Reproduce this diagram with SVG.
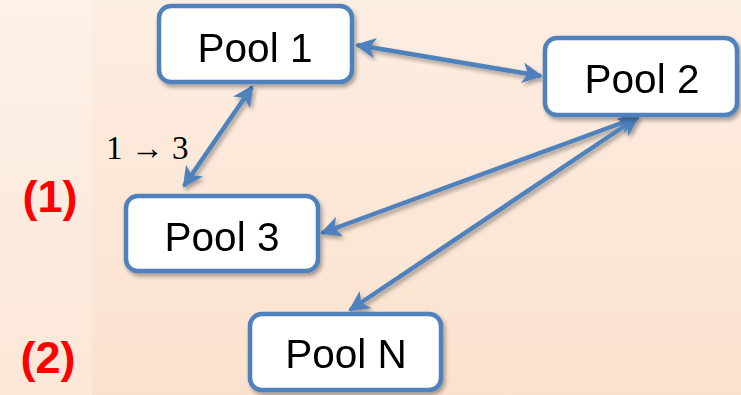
<svg xmlns="http://www.w3.org/2000/svg" width="741" height="395" viewBox="0 0 741 395">
<style>
.box{fill:#ffffff;stroke:#4F81BD;stroke-width:4.5}
.lbl{font-family:"Liberation Sans",Arial,sans-serif;font-size:40.5px;fill:#000;text-anchor:middle}
.tag{font-family:"Liberation Sans",Arial,sans-serif;font-size:45px;font-weight:bold;fill:#FF0000;text-anchor:middle}
.math{font-family:"Liberation Serif","Times New Roman",serif;font-size:33px;fill:#000}
.edge{stroke:#4F81BD;stroke-width:4.5;fill:none;marker-start:url(#ah);marker-end:url(#ah)}
</style>
<defs>
<linearGradient id="bg" x1="0" y1="0" x2="0" y2="1">
<stop offset="0" stop-color="#FDEEE2"/>
<stop offset="1" stop-color="#FBE1CD"/>
</linearGradient>
<marker id="ah" viewBox="0 0 10 10" refX="9" refY="5" markerWidth="4.6" markerHeight="4.6" orient="auto-start-reverse" markerUnits="strokeWidth">
<path d="M0,0 L10,5 L0,10 L2.5,5 Z" fill="#4F81BD"/>
</marker>
<filter id="sh" x="-20%" y="-20%" width="140%" height="150%">
<feGaussianBlur in="SourceAlpha" stdDeviation="2"/>
<feOffset dx="1.5" dy="3" result="b"/>
<feComponentTransfer><feFuncA type="linear" slope="0.35"/></feComponentTransfer>
<feMerge><feMergeNode/><feMergeNode in="SourceGraphic"/></feMerge>
</filter>
</defs>
<rect x="0" y="0" width="741" height="395" fill="url(#bg)"/>
<rect x="0" y="0" width="92" height="395" fill="#ffffff" opacity="0.22"/>
<g id="connectors" filter="url(#sh)">
<line class="edge" x1="357" y1="45" x2="541" y2="76"/>
<line class="edge" x1="252" y1="87" x2="184" y2="186"/>
<line class="edge" x1="638" y1="117" x2="322" y2="233"/>
<line class="edge" x1="638" y1="117" x2="350" y2="310"/>
</g>
<g id="pool1" filter="url(#sh)">
<rect class="box" x="159" y="6" width="193" height="76" rx="12"/>
<text class="lbl" x="255" y="62">Pool 1</text>
</g>
<g id="pool2" filter="url(#sh)">
<rect class="box" x="545" y="38" width="192" height="77" rx="12"/>
<text class="lbl" x="642" y="93">Pool 2</text>
</g>
<g id="pool3" filter="url(#sh)">
<rect class="box" x="126" y="196" width="192" height="75" rx="12"/>
<text class="lbl" x="222" y="251">Pool 3</text>
</g>
<g id="poolN" filter="url(#sh)">
<rect class="box" x="250" y="314" width="191" height="76" rx="12"/>
<text class="lbl" x="346" y="368">Pool N</text>
</g>
<text class="math" x="106" y="159">1 → 3</text>
<text class="tag" x="50" y="212">(1)</text>
<text class="tag" x="48" y="373">(2)</text>
</svg>
